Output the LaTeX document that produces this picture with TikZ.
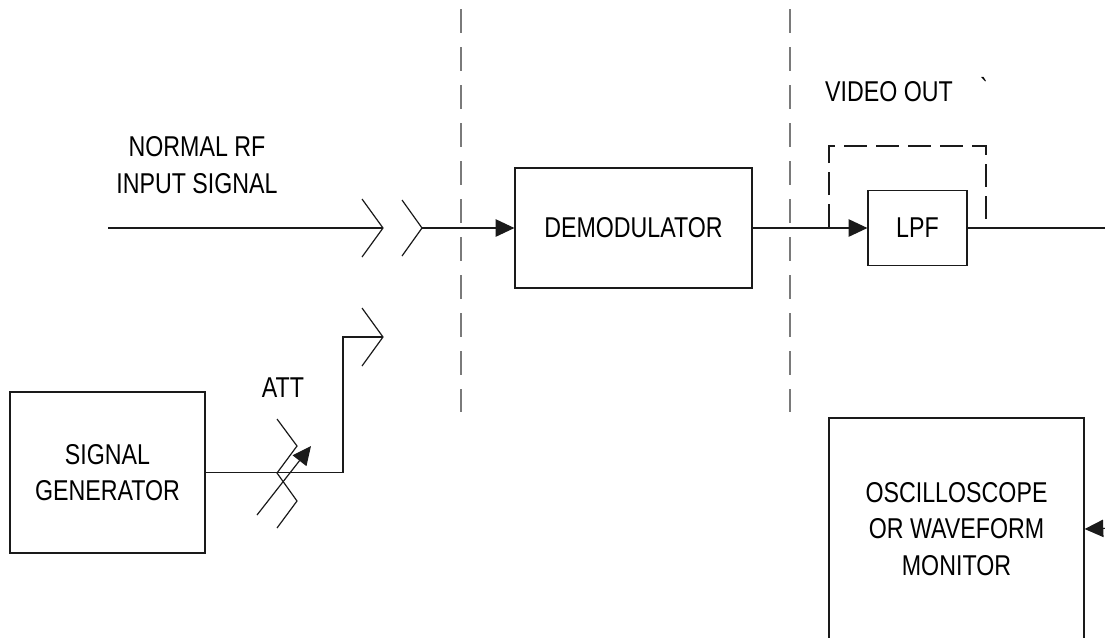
\documentclass[tikz,border=0pt]{standalone}
\usepackage{fontspec}
\usetikzlibrary{arrows.meta, calc}
\newfontfamily\blockfont[FakeStretch=0.81]{Liberation Sans}
\newcommand{\blocktext}{\blockfont\fontsize{21.5}{27.5}\selectfont}
\definecolor{cline}{HTML}{1A1A1A}
\definecolor{cgrey}{HTML}{7A7A7A}
\tikzset{
  every picture/.style={line width=0.9pt},
  box/.style={draw=cline, align=center, inner sep=0pt, font=\blocktext},
  wire/.style={draw=cline},
  arrow/.style={draw=cline, -{Triangle[length=14pt, width=13pt]}},
  divider/.style={draw=cgrey, line width=1pt, dash pattern=on 18pt off 10.5pt},
  guard/.style={draw=cline, line width=0.8pt, dash pattern=on 17pt off 7pt},
  note/.style={font=\blocktext, align=center},
}

\begin{document}
\begin{tikzpicture}[x=0.75pt, y=-0.75pt]
  \clip (0,0) rectangle (1105,637);
  % blocks
  \node[box, minimum width=177.75pt, minimum height=90pt] (demod) at (633.5,228) {DEMODULATOR};
  \node[box, minimum width=74.25pt, minimum height=56.25pt] (lpf) at (917.5,228) {LPF};
  \node[box, minimum width=146.25pt, minimum height=120.75pt] (siggen) at (107.5,472.5) {SIGNAL\\GENERATOR};
  \node[box, minimum width=191.25pt, minimum height=166.5pt] (scope) at (956.5,529) {OSCILLOSCOPE\\OR WAVEFORM\\MONITOR};

  % texts
  \node[note] (rflabel) at (197,165) {NORMAL RF\\INPUT SIGNAL};
  \node[note] (attlabel) at (283,388) {ATT};
  \node[note] (vidlabel) at (889,92) {VIDEO OUT};
  \node[note] (tick) at (985,88) {\textasciigrave};

  % section dividers
  \draw[divider] (461,9) -- (461,412);
  \draw[divider] (790,9) -- (790,412);

  % connector points
  \coordinate (rfin) at (108,228);
  \coordinate (rfplug) at (383,228);
  \coordinate (rfjack) at (422,228);
  \coordinate (attplug) at (383,337);
  \coordinate (att) at (277,473);
  \coordinate (vidout) at (1112,228);
  \coordinate (scopein) at (1115,528);

  % rf input and plug / jack
  \draw[wire] (rfin) -- (rfplug);
  \draw[wire] ($(rfplug)+(-21,-29)$) -- (rfplug) -- ++(-21,29);
  \draw[wire] ($(rfjack)+(-20,-28)$) -- (rfjack) -- ++(-20,28);
  \draw[arrow] (rfjack) -- (demod.west);

  % generator branch through the attenuator
  \draw[wire] (siggen.east) -| ($(attplug)+(-40,0)$) -- (attplug);
  \draw[wire] ($(attplug)+(-21,-29)$) -- (attplug) -- ++(-21,29);
  \draw[wire] (att) ++(0,-54) -- ++(20,27) -- ++(-20,27) -- ++(20,28) -- ++(-20,27);
  \draw[arrow] ($(att)+(-20,42)$) -- ($(att)+(34,-27)$);

  % video output
  \draw[arrow] (demod.east) -- (lpf.west);
  \draw[wire] (lpf.east) -- (vidout);
  \draw[guard] (829,227) -- (829,146) -- (986,146) -- (986,227);
  \draw[arrow] (scopein) -- (scope.east);
\end{tikzpicture}
\end{document}
